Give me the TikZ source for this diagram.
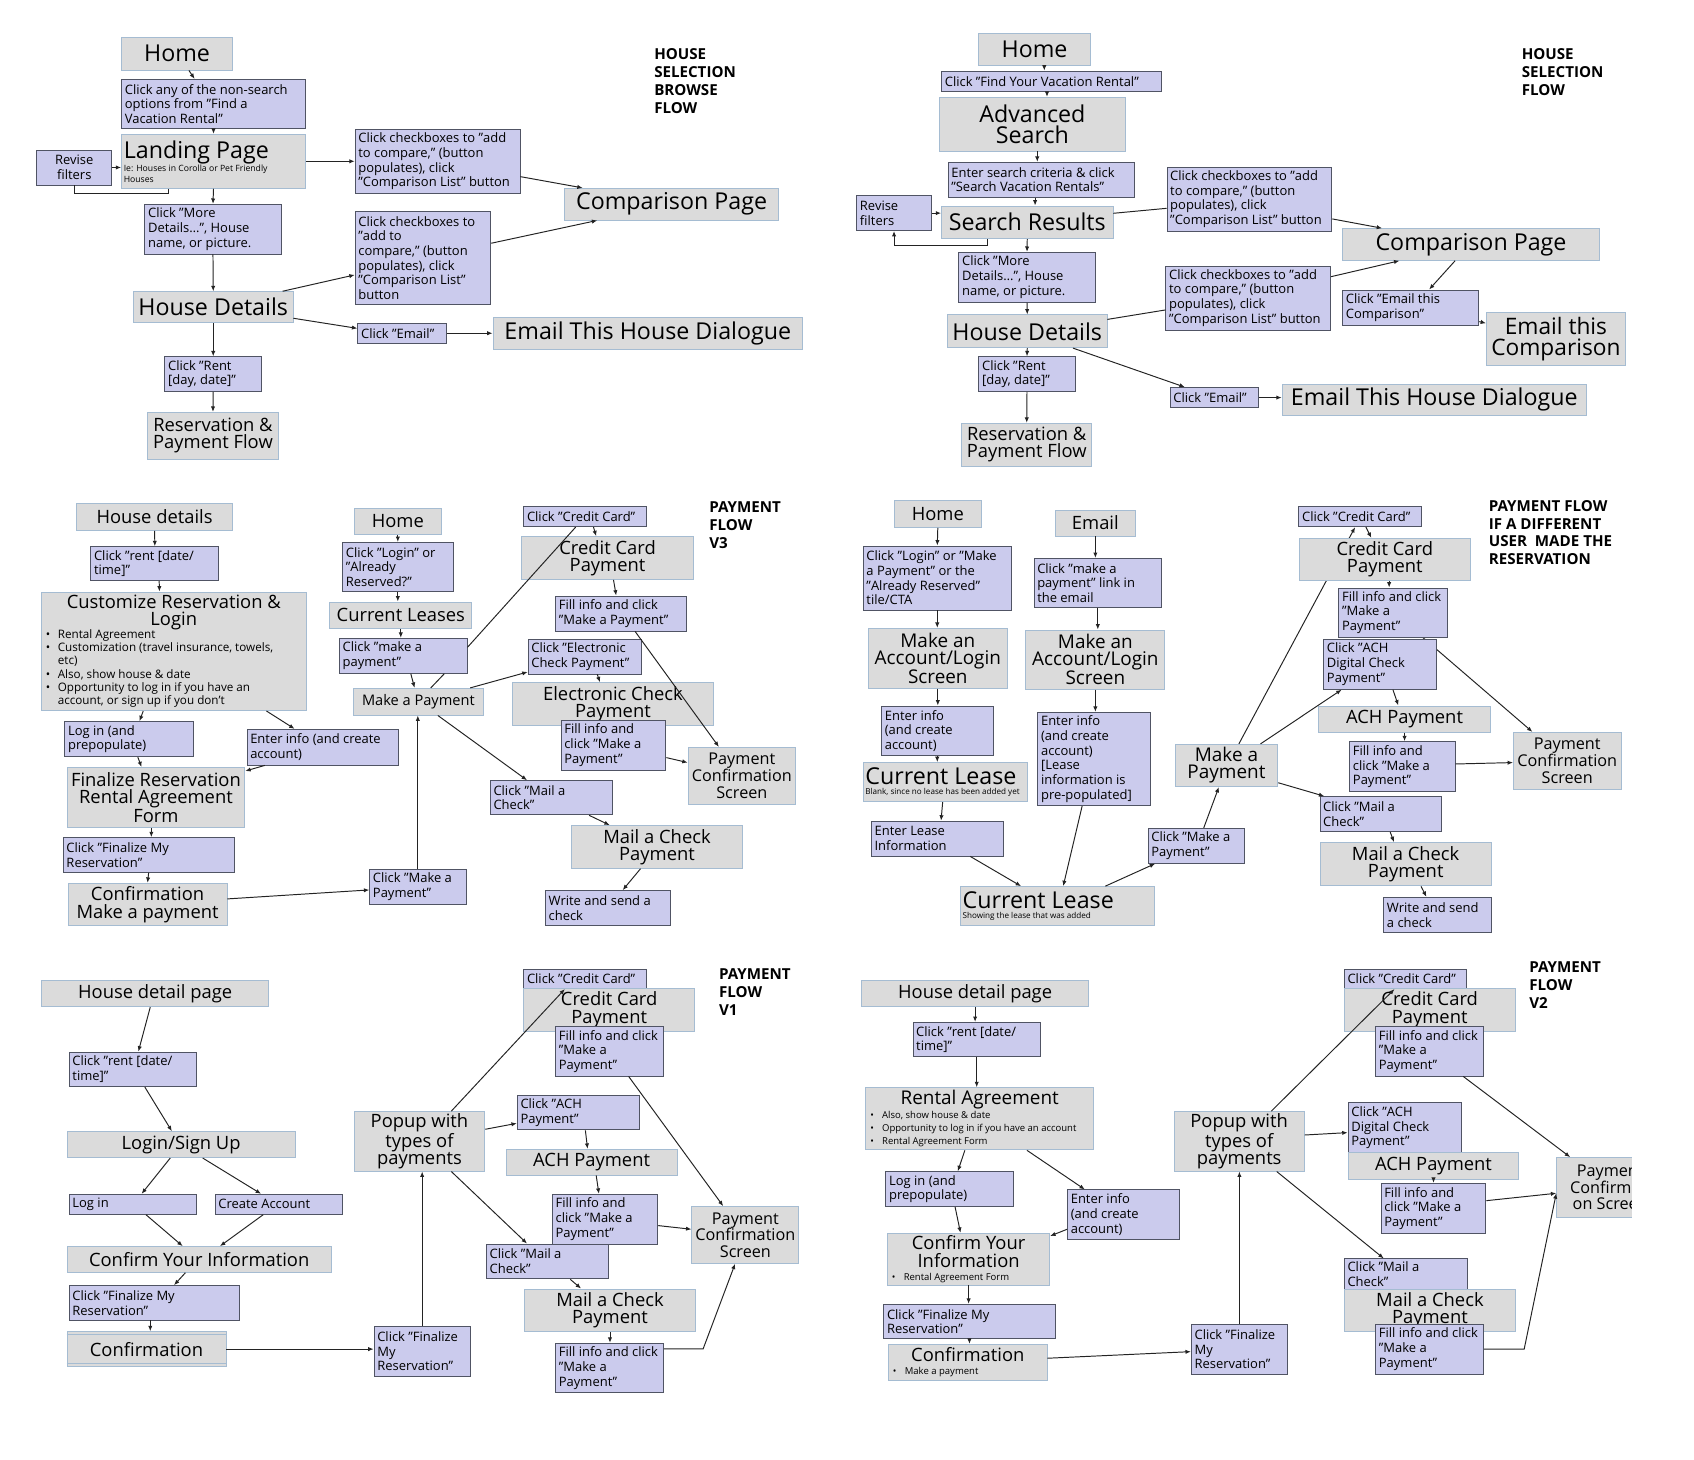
\documentclass[tikz,border=0pt]{standalone}
\usepackage{fontspec}
\setmainfont{Open Sans}
\usetikzlibrary{arrows.meta}

\definecolor{gfill}{RGB}{219,219,219}
\definecolor{gline}{RGB}{165,188,210}
\definecolor{pfill}{RGB}{203,203,237}
\definecolor{pline}{RGB}{80,84,100}
\definecolor{lcol}{RGB}{35,35,35}

\newcommand{\bigtxt}{\fontsize{21.5}{19.5}\selectfont}
\newcommand{\midtxt}{\fontsize{17}{16}\selectfont}
\newcommand{\acctxt}{\fontsize{17.5}{15.5}\selectfont}
\newcommand{\pctxt}{\fontsize{15}{15.4}\selectfont}
\newcommand{\smgtxt}{\fontsize{13.5}{15}\selectfont}
\newcommand{\smtxt}{\fontsize{12}{13.6}\selectfont}
\newcommand{\bultxt}{\fontsize{10.8}{12.3}\selectfont}
\newcommand{\rabtxt}{\fontsize{8.8}{12.3}\selectfont}
\newcommand{\tinytxt}{\fontsize{8}{10}\selectfont}
\newcommand{\leasetxt}{\fontsize{7.5}{9}\selectfont}
\newcommand{\ttltxt}{\fontsize{14}{16.5}\selectfont\bfseries}
\newcommand{\bitem}[1]{\makebox[13pt][l]{\hspace{2pt}\textbullet}#1}

\pgfdeclarelayer{bg}
\pgfsetlayers{bg,main}

\tikzset{
  gbox/.style={draw=gline, fill=gfill, line width=0.8pt, inner sep=2pt, align=center, font=\midtxt},
  pbox/.style={draw=pline, fill=pfill, line width=0.8pt, inner sep=3pt, align=flush left, font=\smtxt},
  flowttl/.style={anchor=north west, inner sep=0pt, align=left, font=\ttltxt},
  arr/.style={draw=lcol, line width=0.9pt, -{Latex[length=5pt,width=4pt]}},
  ln/.style={draw=lcol, line width=0.9pt}
}

\begin{document}
\begin{tikzpicture}[x=1pt,y=-1pt]
\useasboundingbox (0,0) rectangle (1567,1350);

% house selection browse flow
\node[gbox,font=\bigtxt,minimum width=102.5pt,minimum height=30.2pt] (home1) at (163.75,49.6) {Home};
\node[pbox,text width=164pt,minimum height=45.3pt] (cany1) at (197.5,96.05) {Click any of the non-search\\options from "Find a\\Vacation Rental"};
\node[gbox,font=\tinytxt,text width=166pt,align=flush left,minimum height=50pt] (land1) at (197.5,149.2) {{\bigtxt Landing Page\par}Ie: Houses in Corolla or Pet Friendly\\Houses};
\node[pbox,text width=63.5pt,align=flush center,minimum height=32.4pt] (rev1) at (68.75,154.9) {Revise\\filters};
\node[pbox,text width=146.5pt,minimum height=59.2pt] (chka1) at (404.75,149.2) {Click checkboxes to "add\\to compare," (button\\populates), click\\"Comparison List" button};
\node[gbox,font=\bigtxt,minimum width=197.5pt,minimum height=29.3pt] (comp1) at (621.25,188.85) {Comparison Page};
\node[pbox,text width=120pt,minimum height=46pt] (more1) at (197,212) {Click "More\\Details\ldots", House\\name, or picture.};
\node[gbox,font=\bigtxt,minimum width=147.5pt,minimum height=28.6pt] (hd1) at (197.25,284.1) {House Details};
\node[pbox,text width=119.5pt,minimum height=86.8pt] (chkb1) at (391.25,238.6) {Click checkboxes to\\"add to\\compare," (button\\populates), click\\"Comparison List"\\button};
\node[pbox,text width=76pt,minimum height=18.5pt] (mail1) at (372,308.25) {Click "Email"};
\node[gbox,font=\bigtxt,minimum width=286.5pt,minimum height=29.5pt] (dlg1) at (599.25,308.25) {Email This House Dialogue};
\node[pbox,text width=83.5pt,minimum height=32.2pt] (rent1) at (197.25,346.1) {Click "Rent\\{}[day, date]"};
\node[gbox,minimum width=121pt,minimum height=43.4pt] (resv1) at (197,403.1) {Reservation \&\\Payment Flow};
\node[flowttl] (ttl1) at (605,44.7) {HOUSE\\SELECTION\\BROWSE\\FLOW};

\draw[arr] ([xshift=11pt]home1.south) -- ([xshift=-17.5pt]cany1.north);
\draw[arr] (cany1.south) -- (land1.north);
\draw[arr] (rev1.east) -- (rev1.east -| land1.west);
\draw[ln] ([xshift=-41.5pt]land1.south) -- ++(0,4.6) -| (rev1.south);
\draw[arr] (land1.east) -- (chka1.west);
\draw[arr] ([yshift=-14.2pt]chka1.east) -- ([xshift=-82.25pt]comp1.north);
\draw[arr] (land1.south) -- (more1.north);
\draw[arr] (more1.south) -- (hd1.north);
\draw[arr] ([xshift=-10pt]hd1.north east) -- ([yshift=-15.7pt]chkb1.west);
\draw[arr] ([yshift=13.6pt]chkb1.east) -- ([xshift=-68.75pt]comp1.south);
\draw[arr] ([yshift=-10.3pt]hd1.east) -- ([yshift=4.5pt]mail1.west);
\draw[arr] (mail1.east) -- (dlg1.west);
\draw[arr] (hd1.south) -- (rent1.north);
\draw[arr] (rent1.south) -- (resv1.north);

% house selection flow
\node[gbox,font=\bigtxt,minimum width=103pt,minimum height=29.6pt] (home2) at (957,45.6) {Home};
\node[pbox,text width=197.5pt,minimum height=19.1pt] (find2) at (972.75,75.25) {Click "Find Your Vacation Rental"};
\node[gbox,font=\bigtxt,minimum width=172pt,minimum height=49.7pt] (adv2) at (955,114.85) {Advanced\\Search};
\node[pbox,text width=166.5pt,minimum height=32.4pt] (crit2) at (963.25,166.3) {Enter search criteria \& click\\"Search Vacation Rentals"};
\node[pbox,text width=63pt,minimum height=32.3pt] (rev2) at (827,197.15) {Revise\\filters};
\node[gbox,font=\bigtxt,minimum width=158.5pt,minimum height=30.2pt] (sr2) at (950.25,205.6) {Search Results};
\node[pbox,text width=146.5pt,minimum height=58.6pt] (chka2) at (1155.75,184.3) {Click checkboxes to "add\\to compare," (button\\populates), click\\"Comparison List" button};
\node[gbox,font=\bigtxt,minimum width=237.5pt,minimum height=29.3pt] (comp2) at (1360.75,226.15) {Comparison Page};
\node[pbox,text width=120pt,minimum height=46.2pt] (more2) at (950,256.5) {Click "More\\Details\ldots", House\\name, or picture.};
\node[pbox,text width=146.5pt,minimum height=59.2pt] (chkb2) at (1154.75,275.6) {Click checkboxes to "add\\to compare," (button\\populates), click\\"Comparison List" button};
\node[gbox,font=\bigtxt,minimum width=147.5pt,minimum height=30.3pt] (hd2) at (950.25,306.45) {House Details};
\node[pbox,text width=120pt,minimum height=32.4pt] (cmail2) at (1305,284.4) {Click "Email this\\Comparison"};
\node[gbox,font=\fontsize{21}{19.5}\selectfont,minimum width=128.5pt,minimum height=48.6pt] (ecomp2) at (1439.25,313.3) {Email this\\Comparison};
\node[pbox,text width=83pt,minimum height=32.2pt] (rent2) at (950,346.1) {Click "Rent\\{}[day, date]"};
\node[gbox,minimum width=120.5pt,minimum height=39.5pt] (resv2) at (949.75,411.25) {Reservation \&\\Payment Flow};
\node[pbox,text width=76pt,minimum height=18.5pt] (mail2) at (1123.5,367.75) {Click "Email"};
\node[gbox,font=\bigtxt,minimum width=281.5pt,minimum height=29.3pt] (dlg2) at (1326.75,369.85) {Email This House Dialogue};
\node[flowttl] (ttl2) at (1407.5,44.7) {HOUSE\\SELECTION\\FLOW};

\draw[arr] ([xshift=9pt]home2.south) -- ([xshift=-6.75pt]find2.north);
\draw[arr] ([xshift=-4.25pt]find2.south) -- ([xshift=13.5pt]adv2.north);
\draw[arr] ([xshift=4.5pt]adv2.south) -- ([xshift=-3.75pt]crit2.north);
\draw[arr] ([xshift=-5.75pt]crit2.south) -- ([xshift=7.25pt]sr2.north);
\draw[arr] (rev2.east) -- (rev2.east -| sr2.west);
\draw[arr] ([xshift=-36.75pt]sr2.south) -- ++(0,5.9) -| (rev2.south);
\draw[ln] ([yshift=8.3pt]sr2.east) -- ([yshift=-8.4pt]chka2.west);
\draw[arr] ([yshift=-18.2pt]chka2.east) -- ([xshift=-82.25pt]comp2.north);
\draw[arr] (sr2.south) -- (more2.north);
\draw[arr] (more2.south) -- (hd2.north);
\draw[ln] ([yshift=11pt]hd2.east) -- ([yshift=-11.1pt]chkb2.west);
\draw[arr] ([yshift=19.7pt]chkb2.east) -- ([xshift=-66.25pt]comp2.south);
\draw[arr] ([xshift=-14.75pt]comp2.south) -- ([xshift=17pt]cmail2.north);
\draw[arr] ([yshift=-13.1pt]cmail2.east) -- ([yshift=14.3pt]ecomp2.west);
\draw[arr] (hd2.south) -- (rent2.north);
\draw[arr] (rent2.south) -- (resv2.north);
\draw[arr] ([xshift=42.25pt]hd2.south) -- ([xshift=-27.5pt]mail2.north);
\draw[arr] (mail2.east) -- (mail2.east -| dlg2.west);

% payment flow v3
\node[gbox,minimum width=144pt,minimum height=25pt] (hdet3) at (143,478.1) {House details};
\node[pbox,text width=112.5pt,minimum height=31.4pt] (rent3) at (143.25,521.4) {Click "rent [date/\\time]"};
\node[gbox,font=\bultxt,text width=240.5pt,align=flush left,minimum height=109.7pt] (cust3) at (160.75,602.45) {{\fontsize{17}{15.4}\selectfont\makebox[240.5pt]{Customize Reservation \&}\\\makebox[240.5pt]{Login}\\}
  \bitem{Rental Agreement}\\
  \bitem{Customization (travel insurance, towels,}\\
  \hspace*{13pt}etc)\\
  \bitem{Also, show house \& date}\\
  \bitem{Opportunity to log in if you have an}\\
  \hspace*{13pt}account, or sign up if you don't};
\node[pbox,text width=112.5pt,minimum height=32.5pt] (login3) at (119.25,683.75) {Log in (and\\prepopulate)};
\node[pbox,text width=134pt,minimum height=33pt] (info3) at (298.5,691.1) {Enter info (and create\\account)};
\node[gbox,minimum width=164.5pt,minimum height=55.3pt] (final3) at (144.25,737.65) {Finalize Reservation\\Rental Agreement\\Form};
\node[pbox,text width=152pt,minimum height=32.1pt] (fin3) at (137.5,790.85) {Click "Finalize My\\Reservation"};
\node[gbox,minimum width=147pt,minimum height=39.5pt] (conf3) at (136.5,836.75) {Confirmation\\Make a payment};
\node[pbox,text width=83pt,minimum height=32.4pt] (mkc3) at (386.5,820.3) {Click "Make a\\Payment"};
\node[gbox,minimum width=80pt,minimum height=24.4pt] (home3) at (368,482.4) {Home};
\node[pbox,text width=96pt,minimum height=45.6pt] (log3) at (368,524.5) {Click "Login" or\\"Already\\Reserved?"};
\node[gbox,minimum width=131.5pt,minimum height=24.4pt] (lease3) at (370.75,569) {Current Leases};
\node[pbox,text width=112pt,minimum height=32.4pt] (mkl3) at (373,606.6) {Click "make a\\payment"};
\node[gbox,font=\smgtxt,minimum width=121pt,minimum height=24.7pt] (pay3) at (387,649.05) {Make a Payment};
\node[pbox,text width=107.5pt,minimum height=19.2pt] (cc3) at (541.25,477.6) {Click "Credit Card"};
\node[gbox,minimum width=159pt,minimum height=39.6pt] (ccp3) at (562,516.2) {Credit Card\\Payment};
\node[pbox,text width=115pt,minimum height=32.4pt] (fcc3) at (574.5,567.5) {Fill info and click\\"Make a Payment"};
\node[pbox,text width=98.5pt,minimum height=32pt] (ec3) at (540.75,607.4) {Click "Electronic\\Check Payment"};
\node[gbox,minimum width=186pt,minimum height=39.7pt] (ecp3) at (567,651.35) {Electronic Check\\Payment};
\node[pbox,text width=91pt,minimum height=46.2pt] (fec3) at (567.5,689.1) {Fill info and\\click "Make a\\Payment"};
\node[gbox,font=\pctxt,minimum width=99.5pt,minimum height=52.4pt] (pc3) at (686.25,717.5) {Payment\\Confirmation\\Screen};
\node[pbox,text width=107pt,minimum height=31.7pt] (mc3) at (510,737.95) {Click "Mail a\\Check"};
\node[gbox,minimum width=157.5pt,minimum height=39.5pt] (mail3) at (607.75,783.45) {Mail a Check\\Payment};
\node[pbox,text width=109.5pt,minimum height=32.1pt] (wr3) at (562.25,839.85) {Write and send a\\check};
\node[flowttl] (ttl3) at (656,464) {PAYMENT\\FLOW\\V3};

\draw[arr] (hdet3.south) -- (rent3.north);
\draw[arr] ([xshift=4pt]rent3.south) -- ([xshift=-13.25pt]cust3.north);
\draw[arr] ([xshift=-28.25pt]cust3.south) -- ([xshift=9.75pt]login3.north);
\draw[arr] ([xshift=85.75pt]cust3.south) -- ([xshift=-26pt]info3.north);
\draw[arr] ([xshift=8.25pt]login3.south) -- ([xshift=-13.25pt]final3.north);
\draw[arr] ([xshift=-53.5pt]info3.south) -- ([yshift=24.45pt]final3.east);
\draw[arr] ([xshift=-4.25pt]final3.south) -- ([xshift=2.5pt]fin3.north);
\draw[arr] (fin3.south) -- (conf3.north);
\draw[arr] ([yshift=5.25pt]conf3.east) -- ([yshift=-2.9pt]mkc3.west);
\draw[arr] (mkc3.north) -- (mkc3.north |- pay3.south);
\draw[arr] (home3.south) -- (log3.north);
\draw[arr] (log3.south) -- (log3.south |- lease3.north);
\draw[arr] (lease3.south) -- (lease3.south |- mkl3.north);
\draw[arr] ([xshift=7pt]mkl3.south) -- ([xshift=-3.5pt]pay3.north);
\draw[ln] ([xshift=38pt]mkl3.south) -- ([xshift=11.5pt]pay3.north);
\draw[ln] ([yshift=7.8pt]mkl3.east) -- ([xshift=-8.75pt]cc3.south);
\draw[arr] ([xshift=7.75pt]cc3.south) -- ([xshift=-10.5pt]ccp3.north);
\draw[arr] ([xshift=5.5pt]ccp3.south) -- ([xshift=-4.5pt]fcc3.north);
\draw[arr] ([xshift=13pt]fcc3.south) -- ([xshift=-21.25pt]pc3.north);
\draw[arr] ([xshift=48pt]pay3.north) -- ([yshift=-14.2pt]ec3.west);
\draw[arr] ([xshift=11.75pt]ec3.south) -- ([xshift=-12pt]ecp3.north);
\draw[arr] ([yshift=-11.7pt]fec3.east) -- ([yshift=12.1pt]pc3.west);
\draw[arr] ([xshift=18pt]pay3.south) -- ([xshift=-22.5pt]mc3.north);
\draw[arr] ([xshift=35pt]mc3.south) -- ([xshift=-43.75pt]mail3.north);
\draw[arr] ([xshift=-15.25pt]mail3.south) -- ([xshift=13.75pt]wr3.north);

% payment flow if a different user made the reservation
\node[gbox,minimum width=80pt,minimum height=24.7pt] (home4) at (867.5,475.45) {Home};
\node[pbox,text width=131pt,minimum height=59.2pt] (log4) at (867,534.6) {Click "Login" or "Make\\a Payment" or the\\"Already Reserved"\\tile/CTA};
\node[gbox,font=\acctxt,minimum width=128pt,minimum height=55.5pt] (acct4) at (867.5,608.95) {Make an\\Account/Login\\Screen};
\node[pbox,text width=97pt,minimum height=46pt] (info4) at (867,676) {Enter info\\(and create\\account)};
\node[gbox,font=\leasetxt,text width=148pt,align=flush left,minimum height=36.1pt] (lsa4) at (874.5,723.45) {{\bigtxt Current Lease\par}Blank, since no lease has been added yet};
\node[pbox,text width=116.5pt,minimum height=32.3pt] (enl4) at (867.25,775.65) {Enter Lease\\Information};
\node[gbox,font=\leasetxt,text width=175pt,align=flush left,minimum height=35.8pt] (lsb4) at (978,838) {{\bigtxt Current Lease\par}Showing the lease that was added};
\node[gbox,minimum width=73.5pt,minimum height=24pt] (email4) at (1013.25,483.8) {Email};
\node[pbox,text width=112pt,minimum height=45.6pt] (lnk4) at (1015.5,539.3) {Click "make a\\payment" link in\\the email};
\node[gbox,font=\acctxt,minimum width=128.5pt,minimum height=54.9pt] (acctb4) at (1013.25,610.15) {Make an\\Account/Login\\Screen};
\node[pbox,text width=98pt,minimum height=86.3pt] (infob4) at (1012,702.05) {Enter info\\(and create\\account)\\{}[Lease\\information is\\pre-populated]};
\node[pbox,text width=83pt,minimum height=32.3pt] (mkc4) at (1106.5,782.35) {Click "Make a\\Payment"};
\node[gbox,font=\acctxt,minimum width=95pt,minimum height=39.1pt] (pay4) at (1134.5,708.05) {Make a\\Payment};
\node[pbox,text width=107pt,minimum height=19.2pt] (cc4) at (1258,477.6) {Click "Credit Card"};
\node[gbox,minimum width=158pt,minimum height=39.1pt] (ccp4) at (1281,517.55) {Credit Card\\Payment};
\node[pbox,text width=94pt,minimum height=44.7pt] (fcc4) at (1288.5,566.55) {Fill info and click\\"Make a\\Payment"};
\node[pbox,text width=98.5pt,minimum height=46.2pt] (ach4c) at (1276.75,614.5) {Click "ACH\\Digital Check\\Payment"};
\node[gbox,minimum width=158.5pt,minimum height=24.4pt] (ach4) at (1299.25,665.2) {ACH Payment};
\node[pbox,text width=91.5pt,minimum height=46.3pt] (fach4) at (1297.25,709.15) {Fill info and\\click "Make a\\Payment"};
\node[gbox,font=\pctxt,minimum width=99.5pt,minimum height=52.7pt] (pc4) at (1449.75,703.75) {Payment\\Confirmation\\Screen};
\node[pbox,text width=106.5pt,minimum height=32.4pt] (mc4) at (1277.25,753.1) {Click "Mail a\\Check"};
\node[gbox,minimum width=158.5pt,minimum height=40.1pt] (mail4) at (1300.25,799.45) {Mail a Check\\Payment};
\node[pbox,text width=94pt,minimum height=32.4pt] (wr4) at (1330,846.2) {Write and send\\a check};
\node[flowttl] (ttl4) at (1377,462.5) {PAYMENT FLOW\\IF A DIFFERENT\\USER\ \ MADE THE\\RESERVATION};

\draw[arr] (home4.south) -- (log4.north);
\draw[arr] (log4.south) -- (log4.south |- acct4.north);
\draw[arr] (acct4.south) -- (acct4.south |- info4.north);
\draw[arr] (info4.south) -- (info4.south |- lsa4.north);
\draw[arr] ([xshift=-2.5pt]lsa4.south) -- ([xshift=3.25pt]enl4.north);
\draw[arr] ([xshift=30.25pt]enl4.south) -- ([xshift=-33.5pt]lsb4.north);
\draw[arr] (email4.south) -- (email4.south |- lnk4.north);
\draw[arr] (lnk4.south) -- (lnk4.south |- acctb4.north);
\draw[arr] (acctb4.south) -- (acctb4.south |- infob4.north);
\draw[arr] ([xshift=-11pt]infob4.south) -- ([xshift=5.5pt]lsb4.north);
\draw[arr] ([xshift=44.5pt]lsb4.north) -- ([xshift=-38pt]mkc4.south);
\draw[arr] ([xshift=7pt]mkc4.north) -- ([xshift=-7pt]pay4.south);
\begin{pgfonlayer}{bg}
\draw[arr] ([xshift=11.5pt]pay4.north) -- ([xshift=-4.5pt]cc4.south);
\draw[arr] ([xshift=27.5pt]fcc4.south) -- ([xshift=-32.25pt]pc4.north);
\end{pgfonlayer}
\draw[arr] ([xshift=5.5pt]cc4.south) -- ([xshift=-12.5pt]ccp4.north);
\draw[arr] ([xshift=4pt]ccp4.south) -- ([xshift=-3.5pt]fcc4.north);
\draw[arr] ([xshift=31.5pt]pay4.north) -- ([xshift=-35.75pt]ach4c.south);
\draw[arr] ([xshift=11.75pt]ach4c.south) -- ([xshift=-5.75pt]ach4.north);
\draw[arr] (ach4.south) -- (ach4.south |- fach4.north);
\draw[arr] ([yshift=2.45pt]fach4.east) -- ([yshift=-1.65pt]pc4.west);
\draw[arr] ([yshift=-16pt]pay4.east) -- ([xshift=-52.25pt]mc4.north);
\draw[arr] ([xshift=8.75pt]mc4.south) -- ([xshift=-10.75pt]mail4.north);
\draw[arr] ([xshift=14.25pt]mail4.south) -- ([xshift=-10.5pt]wr4.north);

% payment flow v1
\node[gbox,minimum width=210pt,minimum height=24.1pt] (hdp5) at (143.5,919.15) {House detail page};
\node[pbox,text width=111.5pt,minimum height=32.1pt] (rent5) at (122.75,989.15) {Click "rent [date/\\time]"};
\node[gbox,minimum width=211pt,minimum height=24pt] (sign5) at (167.5,1058.8) {Login/Sign Up};
\node[pbox,text width=111.5pt,minimum height=18.5pt] (login5) at (122.75,1113.95) {Log in};
\node[pbox,text width=111.5pt,minimum height=18.5pt] (acct5) at (257.75,1113.95) {Create Account};
\node[gbox,minimum width=244.5pt,minimum height=23.8pt] (info5) at (184.25,1165) {Confirm Your Information};
\node[pbox,text width=151.5pt,minimum height=31.8pt] (fin5) at (142.75,1205.1) {Click "Finalize My\\Reservation"};
\node[gbox,minimum width=147pt,minimum height=32.3pt] (conf5) at (135.5,1247.95) {Confirmation};
\draw[gline,line width=0.8pt] ([yshift=-3pt]conf5.north west) -- ([yshift=-3pt]conf5.north east);
\draw[gline,line width=0.8pt] ([yshift=3pt]conf5.south west) -- ([yshift=3pt]conf5.south east);
\node[pbox,text width=83pt,minimum height=45.7pt] (finb5) at (390.5,1249.95) {Click "Finalize\\My\\Reservation"};
\node[gbox,minimum width=121pt,minimum height=54.9pt] (pop5) at (388,1055.75) {Popup with\\types of\\payments};
\node[pbox,text width=107.5pt,minimum height=17.9pt] (cc5) at (541.25,905.55) {Click "Credit Card"};
\node[gbox,minimum width=158pt,minimum height=39.2pt] (ccp5) at (563.5,934.1) {Credit Card\\Payment};
\node[pbox,text width=94pt,minimum height=45.6pt] (fcc5) at (564,972.5) {Fill info and click\\"Make a\\Payment"};
\node[pbox,text width=107pt,minimum height=32.3pt] (achc5) at (535,1029.05) {Click "ACH\\Payment"};
\node[gbox,minimum width=158.5pt,minimum height=23.8pt] (ach5) at (547.25,1075) {ACH Payment};
\node[pbox,text width=91.5pt,minimum height=46pt] (fach5) at (559.75,1127.7) {Fill info and\\click "Make a\\Payment"};
\node[gbox,font=\pctxt,minimum width=99pt,minimum height=52.5pt] (pc5) at (689.5,1142.35) {Payment\\Confirmation\\Screen};
\node[pbox,text width=106.5pt,minimum height=32.3pt] (mc5) at (506.25,1166.85) {Click "Mail a\\Check"};
\node[gbox,minimum width=158.5pt,minimum height=39.5pt] (mail5) at (564.25,1212.05) {Mail a Check\\Payment};
\node[pbox,text width=94pt,minimum height=45.7pt] (fm5) at (564,1265.35) {Fill info and click\\"Make a\\Payment"};
\node[flowttl] (ttl5) at (665,895.7) {PAYMENT\\FLOW\\V1};

\draw[arr] ([xshift=-4.5pt]hdp5.south) -- ([xshift=5.25pt]rent5.north);
\draw[arr] ([xshift=11.25pt]rent5.south) -- ([xshift=-8.5pt]sign5.north);
\draw[arr] ([xshift=-10pt]sign5.south) -- ([xshift=8.25pt]login5.north);
\draw[arr] ([xshift=20pt]sign5.south) -- ([xshift=-16.25pt]acct5.north);
\draw[arr] ([xshift=12.25pt]login5.south) -- ([xshift=-15.25pt]info5.north);
\draw[arr] ([xshift=-14.25pt]acct5.south) -- ([xshift=19.25pt]info5.north);
\draw[arr] ([xshift=-12.75pt]info5.south) -- ([xshift=18.25pt]fin5.north);
\draw[arr] ([xshift=-3.75pt]fin5.south) -- ([xshift=3.5pt]conf5.north);
\draw[arr] (conf5.east) -- (conf5.east -| finb5.west);
\draw[arr] (finb5.north) -- (finb5.north |- pop5.south);
\draw[arr] ([xshift=29.5pt]pop5.north) -- ([xshift=-18.75pt]cc5.south);
\draw[arr] ([xshift=17.5pt]fcc5.south) -- ([xshift=-20.5pt]pc5.north);
\draw[arr] ([yshift=11.15pt]pop5.east) -- ([yshift=-10.05pt]achc5.west);
\draw[arr] ([xshift=6.5pt]achc5.south) -- ([xshift=-3.75pt]ach5.north);
\draw[arr] ([xshift=4.25pt]ach5.south) -- ([xshift=-5.75pt]fach5.north);
\draw[arr] ([yshift=-6pt]fach5.east) -- ([yshift=5.25pt]pc5.west);
\draw[arr] ([xshift=29.5pt]pop5.south) -- ([xshift=-18.75pt]mc5.north);
\draw[arr] ([xshift=21.25pt]mc5.south) -- ([xshift=-26.75pt]mail5.north);
\draw[arr] (mail5.south) -- (mail5.south |- fm5.north);
\draw[arr] ([yshift=17.55pt]fm5.east) -- ++(36,0) -- ([xshift=-9.5pt]pc5.south);

% payment flow v2
\node[gbox,minimum width=210pt,minimum height=24.1pt] (hdp6) at (902,919.15) {House detail page};
\node[pbox,text width=112pt,minimum height=31.7pt] (rent6) at (903.5,961.55) {Click "rent [date/\\time]"};
\node[gbox,font=\rabtxt,text width=206.5pt,align=flush left,minimum height=57.6pt] (ra6) at (906.25,1034.9) {{\fontsize{17.5}{16}\selectfont\makebox[206.5pt]{Rental Agreement}\\}
  \bitem{Also, show house \& date}\\
  \bitem{Opportunity to log in if you have an account}\\
  \bitem{Rental Agreement Form}};
\node[pbox,text width=111.5pt,minimum height=32.3pt] (login6) at (878.25,1099.95) {Log in (and\\prepopulate)};
\node[pbox,text width=97.5pt,minimum height=45.7pt] (info6) at (1039.25,1123.55) {Enter info\\(and create\\account)};
\node[gbox,font=\rabtxt,text width=146pt,align=flush left,minimum height=47.8pt] (conf6) at (896,1164.7) {{\midtxt\makebox[146pt]{Confirm Your}\\\makebox[146pt]{Information}\\}
  \bitem{Rental Agreement Form}};
\node[pbox,text width=152.5pt,minimum height=32pt] (fin6) at (896.75,1222.5) {Click "Finalize My\\Reservation"};
\node[gbox,font=\rabtxt,text width=142.5pt,align=flush left,minimum height=33pt] (cnf6) at (895.25,1260) {{\midtxt\makebox[142.5pt]{Confirmation}\\}
  \bitem{Make a payment}};
\node[pbox,text width=83pt,minimum height=46pt] (finb6) at (1146.5,1248) {Click "Finalize\\My\\Reservation"};
\node[gbox,minimum width=120.5pt,minimum height=54.9pt] (pop6) at (1146.25,1055.75) {Popup with\\types of\\payments};
\node[pbox,text width=107pt,minimum height=18.2pt] (cc6) at (1300,905.4) {Click "Credit Card"};
\node[gbox,minimum width=158pt,minimum height=39.2pt] (ccp6) at (1322.5,934.1) {Credit Card\\Payment};
\node[pbox,text width=94pt,minimum height=45.6pt] (fcc6) at (1322.5,972.5) {Fill info and click\\"Make a\\Payment"};
\node[pbox,text width=98.5pt,minimum height=46.2pt] (achc6) at (1299.25,1043.1) {Click "ACH\\Digital Check\\Payment"};
\node[gbox,minimum width=158pt,minimum height=24.4pt] (ach6) at (1326,1078.4) {ACH Payment};
\node[pbox,text width=91pt,minimum height=46.2pt] (fach6) at (1326,1117.7) {Fill info and\\click "Make a\\Payment"};
\begin{scope}
\clip (0,0) rectangle (1509.5,1350);
\node[gbox,font=\pctxt,minimum width=99pt,minimum height=55.5pt] (pc6) at (1489.5,1098.55) {Payment\\Confirmati\\on Screen};
\end{scope}
\node[pbox,text width=107.5pt,minimum height=28.6pt] (mc6) at (1300.25,1178.9) {Click "Mail a\\Check"};
\node[gbox,minimum width=158.5pt,minimum height=39.5pt] (mail6) at (1322.75,1212.05) {Mail a Check\\Payment};
\node[pbox,text width=94pt,minimum height=46pt] (fm6) at (1322.5,1248) {Fill info and click\\"Make a\\Payment"};
\node[flowttl] (ttl6) at (1414.5,889.5) {PAYMENT\\FLOW\\V2};

\draw[arr] (hdp6.south) -- (hdp6.south |- rent6.north);
\draw[arr] (rent6.south) -- (rent6.south |- ra6.north);
\draw[arr] ([xshift=-13.75pt]ra6.south) -- ([xshift=7.75pt]login6.north);
\draw[arr] ([xshift=43.75pt]ra6.south) -- ([xshift=-35.75pt]info6.north);
\draw[arr] ([xshift=5.25pt]login6.south) -- ([xshift=-7.5pt]conf6.north);
\draw[arr] ([yshift=-13.55pt]info6.west) -- ([yshift=21.4pt]conf6.east);
\draw[arr] (conf6.south) -- (conf6.south |- fin6.north);
\draw[arr] (fin6.south) -- (fin6.south |- cnf6.north);
\draw[arr] ([yshift=3.6pt]cnf6.east) -- ([yshift=-2.3pt]finb6.west);
\draw[arr] (finb6.north) -- (finb6.north |- pop6.south);
\draw[arr] ([xshift=29.75pt]pop6.north) -- ([xshift=-10pt]cc6.south);
\draw[arr] ([xshift=31pt]fcc6.south) -- ([xshift=-37pt]pc6.north);
\draw[arr] ([yshift=5.85pt]pop6.east) -- ([yshift=-4.6pt]achc6.west);
\draw[arr] (ach6.south) -- (fach6.north);
\draw[arr] ([yshift=7.05pt]fach6.east) -- ([yshift=-5.25pt]pc6.west);
\draw[arr] ([xshift=34.75pt]pop6.south) -- ([xshift=-20.25pt]mc6.north);
\draw[arr] (fm6.east) -- ++(37,0) -- ([yshift=-5.25pt]pc6.west);
\end{tikzpicture}
\end{document}
